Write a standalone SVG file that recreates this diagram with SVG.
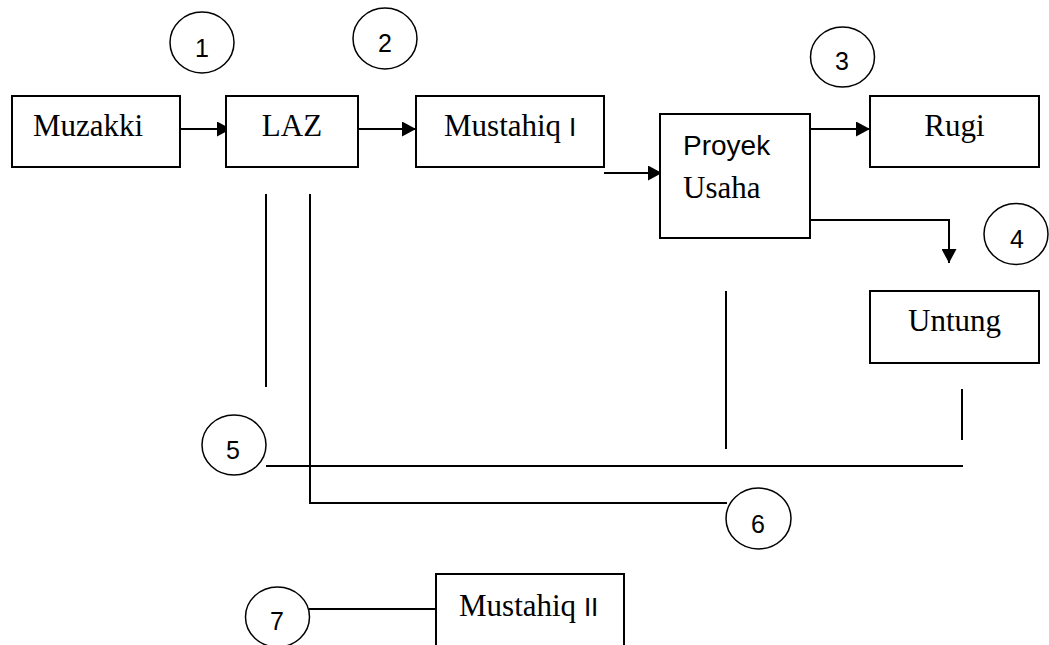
<svg xmlns="http://www.w3.org/2000/svg" width="1049" height="645" viewBox="0 0 1049 645">
<style>
.box{fill:#fff;stroke:#000;stroke-width:2}
.num{fill:#fff;stroke:#000;stroke-width:1.5}
.lbl{font-family:"Liberation Serif","Times New Roman",serif;font-size:31px;fill:#000}
.sans{font-family:"Liberation Sans",Arial,sans-serif}
.dig{font-family:"Liberation Sans",Arial,sans-serif;font-size:25px;fill:#000;text-anchor:middle}
.ln{fill:none;stroke:#000;stroke-width:2}
.arr{marker-end:url(#ah)}
</style>
<defs>
<marker id="ah" markerUnits="userSpaceOnUse" markerWidth="14" markerHeight="15" refX="14" refY="7.5" orient="auto">
<path d="M0,0 L14,7.5 L0,15 z" fill="#000"/>
</marker>
</defs>
<rect width="1049" height="645" fill="#fff"/>
<g id="connectors">
<line class="ln arr" x1="180" y1="129" x2="231" y2="129"/>
<line class="ln arr" x1="358" y1="129" x2="416" y2="129"/>
<line class="ln arr" x1="604" y1="173" x2="662" y2="173"/>
<line class="ln arr" x1="810" y1="129" x2="870" y2="129"/>
<path class="ln arr" d="M810,220 H949 V263"/>
<line class="ln" x1="266" y1="194" x2="266" y2="387"/>
<path class="ln" d="M310,194 V503 H727"/>
<line class="ln" x1="266" y1="466" x2="963" y2="466"/>
<line class="ln" x1="726" y1="291" x2="726" y2="449"/>
<line class="ln" x1="962" y1="389" x2="962" y2="440"/>
<line class="ln" x1="309" y1="609" x2="436" y2="609"/>
</g>
<g id="muzakki"><rect class="box" x="12" y="96" width="168" height="71"/><text class="lbl" x="33" y="136">Muzakki</text></g>
<g id="laz"><rect class="box" x="226" y="96" width="132" height="71"/><text class="lbl" x="292" y="136" text-anchor="middle">LAZ</text></g>
<g id="mustahiq1"><rect class="box" x="416" y="96" width="188" height="71"/><text class="lbl" x="444" y="136">Mustahiq <tspan class="sans" font-size="26">I</tspan></text></g>
<g id="proyek"><rect class="box" x="660" y="114" width="150" height="124"/><text class="sans" x="683" y="155" font-size="28" fill="#000">Proyek</text><text class="lbl" x="683" y="198">Usaha</text></g>
<g id="rugi"><rect class="box" x="870" y="96" width="169" height="71"/><text class="lbl" x="954.5" y="136" text-anchor="middle">Rugi</text></g>
<g id="untung"><rect class="box" x="870" y="291" width="169" height="72"/><text class="lbl" x="954.5" y="331" text-anchor="middle">Untung</text></g>
<g id="mustahiq2"><rect class="box" x="436" y="574" width="188" height="90"/><text class="lbl" x="459" y="616">Mustahiq <tspan class="sans" font-size="26">II</tspan></text></g>
<g id="c1"><ellipse class="num" cx="202" cy="42.5" rx="32" ry="30.5"/><text class="dig" x="202" y="57">1</text></g>
<g id="c2"><ellipse class="num" cx="385" cy="38.5" rx="32" ry="30.5"/><text class="dig" x="385" y="52">2</text></g>
<g id="c3"><ellipse class="num" cx="842.5" cy="57" rx="32" ry="30"/><text class="dig" x="842" y="70">3</text></g>
<g id="c4"><ellipse class="num" cx="1016" cy="234" rx="32" ry="30.5"/><text class="dig" x="1017" y="248">4</text></g>
<g id="c5"><ellipse class="num" cx="234" cy="445" rx="32" ry="30"/><text class="dig" x="233" y="459">5</text></g>
<g id="c6"><ellipse class="num" cx="758.5" cy="518.5" rx="32.5" ry="30.5"/><text class="dig" x="758" y="533">6</text></g>
<g id="c7"><ellipse class="num" cx="277.5" cy="617" rx="32" ry="30"/><text class="dig" x="277" y="630">7</text></g>
</svg>
